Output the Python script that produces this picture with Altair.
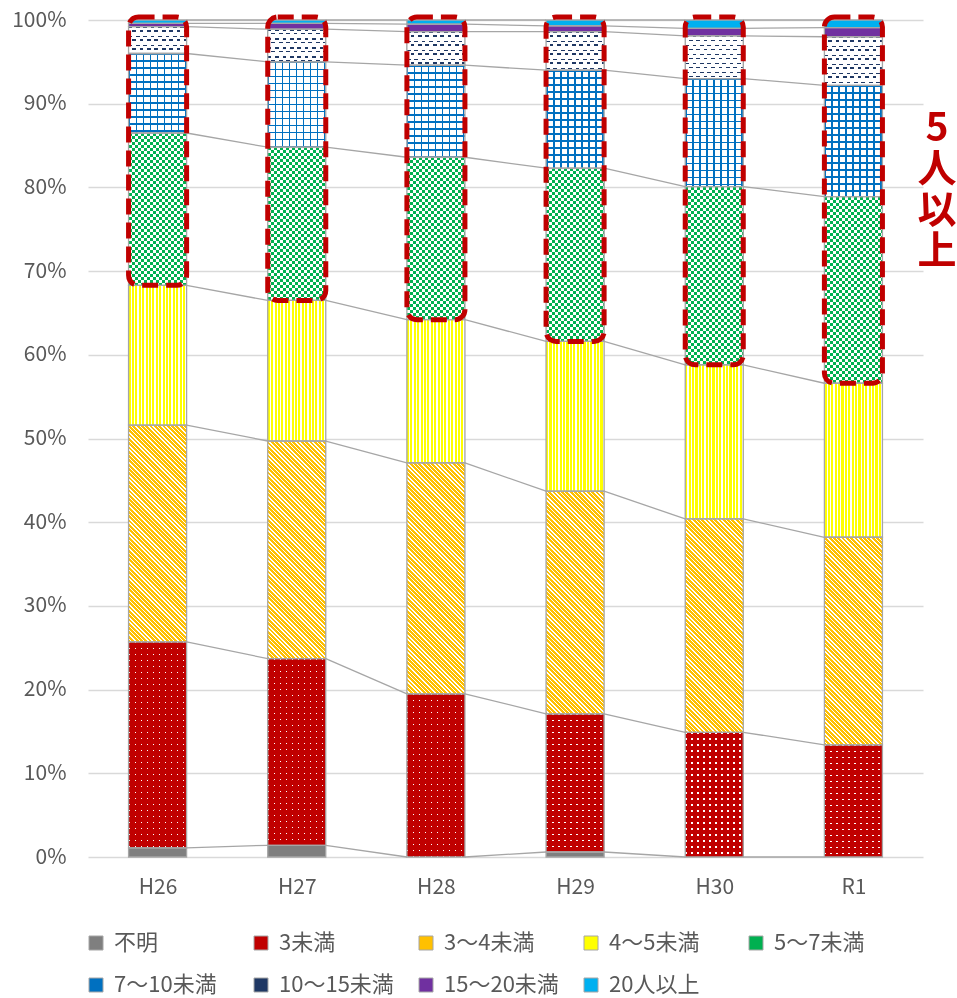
import math

import altair as alt
import pandas as pd

# ---- data: share of households by number of members (%) ----
categories = ["H26", "H27", "H28", "H29", "H30", "R1"]
series_names = ["不明", "3未満", "3～4未満", "4～5未満", "5～7未満",
                "7～10未満", "10～15未満", "15～20未満", "20人以上"]
unknown = [1.1, 1.4, 0.0, 0.6, 0.0, 0.0]
under3 = [24.6, 22.3, 19.5, 16.5, 14.9, 13.4]
from3to4 = [25.9, 26.0, 27.6, 26.6, 25.5, 24.8]
from4to5 = [16.7, 16.8, 17.1, 17.9, 18.4, 18.4]
from5to7 = [18.2, 18.3, 19.4, 20.7, 21.3, 22.3]
from7to10 = [9.5, 10.2, 11.0, 11.7, 12.9, 13.3]
from10to15 = [3.2, 3.9, 4.0, 4.6, 5.1, 5.8]
from15to20 = [0.4, 0.7, 0.9, 0.7, 0.9, 1.1]
over20 = [0.4, 0.4, 0.5, 0.7, 1.0, 0.9]
series_values = [unknown, under3, from3to4, from4to5, from5to7,
                 from7to10, from10to15, from15to20, over20]
series_colors = ["#7F7F7F", "#C00000", "#FFC000", "#FFFF00", "#00B050",
                 "#0070C0", "#1F3864", "#7030A0", "#00B0F0"]
highlight_label = ["5", "人", "以", "上"]

# ---- layout ----
PLOT_W, PLOT_H = 835, 837
HALF = 0.2085                      # half bar width, in category units
BAR_PX = 2 * HALF * PLOT_W / len(categories)
FONT = "Noto Sans CJK JP"
TEXT = "#595959"
EDGE = "#A6A6A6"
GRID = "#D9D9D9"
RED = "#C00000"
NAVY = "#1F3864"
WHITE, BLACK = "#FFFFFF", "#000000"

rows = []
for i, cat in enumerate(categories):
    top = 0.0
    for k, (name, vals) in enumerate(zip(series_names, series_values)):
        v = vals[i]
        rows.append(dict(cat=cat, idx=i, series=name, order=k, value=v,
                         y0=round(top, 2), y1=round(top + v, 2)))
        top += v
seg = pd.DataFrame(rows)

links = []
for name in series_names:
    s = seg[seg.series == name].sort_values("idx")
    for i in range(len(categories) - 1):
        links.append(dict(series=name, idx=i, ya=float(s.y1.iloc[i]), yb=float(s.y1.iloc[i + 1])))
link_df = pd.DataFrame(links)

XS = alt.Scale(domain=[-0.5, len(categories) - 0.5], nice=False, zero=False)
YS = alt.Scale(domain=[0, 100], nice=False, zero=False)
x_labels = "[" + ",".join(f"'{c}'" for c in categories) + "][datum.value]"
X_AX = alt.Axis(values=list(range(len(categories))), labelExpr=x_labels, grid=False,
                ticks=False, domain=False, labelFont=FONT, labelFontSize=21,
                labelColor=TEXT, labelPadding=19, title=None)
Y_AX = alt.Axis(values=list(range(0, 101, 10)), labelExpr="datum.value + '%'",
                grid=True, gridColor=GRID, gridWidth=1.5, ticks=False, domain=False,
                labelFont=FONT, labelFontSize=21, labelColor=TEXT, labelPadding=22,
                title=None)


def bars(data=seg):
    return alt.Chart(data).transform_calculate(
        xl=f"datum.idx - {HALF}", xr=f"datum.idx + {HALF}")


def place():
    return dict(x=alt.X("xl:Q", scale=XS, axis=X_AX), x2="xr:Q",
                y=alt.Y("y0:Q", scale=YS, axis=Y_AX), y2="y1:Q")


def periodic(n, pattern, x1, y1, x2, y2):
    """Repeat `pattern` [(start, end, colour), ...] n times along a linear gradient."""
    stops = []
    for j in range(n):
        for a, b, col in pattern:
            stops.append(dict(offset=round((j + a) / n, 5), color=col))
            stops.append(dict(offset=round((j + b) / n, 5), color=col))
    return dict(gradient="linear", stops=stops, x1=x1, y1=y1, x2=x2, y2=y2)


def two_tone(frac, on, off):
    return [(0, frac, on), (frac, 1, off)]


def across(period, pattern, w=BAR_PX):
    n = math.ceil(w / period)
    return periodic(n, pattern, 0, 0, round(n * period / w, 5), 0)


def down(period, pattern, h):
    n = max(1, math.ceil(h / period))
    return periodic(n, pattern, 0, 0, 0, round(n * period / h, 5))


def diagonal(period, pattern, h, w=BAR_PX):
    # stripes running top-left to bottom-right at 45 degrees on screen
    k = h / w
    a0 = (1 + k) / (1 + k * k)
    n = math.ceil((w + h) / period)
    s = n * period / (w + h)
    return periodic(n, pattern, 0, 1, round(s * a0, 5), round(1 - k * s * a0, 5))


def patch(name, fill, idx=None, blend=None):
    ch = bars().transform_filter(alt.datum.series == name)
    if idx is not None:
        ch = ch.transform_filter(alt.datum.idx == idx)
    kw = dict(fill=fill)
    if blend:
        kw["blend"] = blend
    return ch.mark_rect(**kw).encode(**place())


def px_height(name, i):
    return float(seg[(seg.series == name) & (seg.idx == i)].value.iloc[0]) * PLOT_H / 100


base = bars().mark_rect().encode(
    **place(),
    color=alt.Color("series:N", sort=series_names,
                    scale=alt.Scale(domain=series_names, range=series_colors),
                    legend=alt.Legend(
                        orient="none", legendX=-3, legendY=912, direction="horizontal",
                        columns=5, title=None, symbolType="square", symbolSize=196,
                        symbolStrokeColor=EDGE, symbolStrokeWidth=1, symbolOpacity=1,
                        labelFont=FONT, labelFontSize=22, labelColor=TEXT,
                        labelOffset=7, columnPadding=21, rowPadding=20,
                        gridAlign="all", padding=0)),
)

layers = [base]
n_cat = len(categories)

# 3未満: white dots on red (column mask x row mask, then tinted)
layers.append(patch("3未満", across(6, two_tone(0.24, WHITE, BLACK))))
for i in range(n_cat):
    layers.append(patch("3未満", down(6, two_tone(0.24, WHITE, BLACK), px_height("3未満", i)),
                        idx=i, blend="multiply"))
layers.append(patch("3未満", RED, blend="screen"))

# 3～4未満: orange diagonal hatch
for i in range(n_cat):
    layers.append(patch("3～4未満", diagonal(4.3, two_tone(0.65, "#FFC000", WHITE),
                                            px_height("3～4未満", i)), idx=i))

# 4～5未満: yellow vertical stripes
layers.append(patch("4～5未満", across(3.4, two_tone(0.62, "#FFFF00", WHITE))))

# 5～7未満: green checkerboard (column stripes XOR row stripes, then tinted)
layers.append(patch("5～7未満", across(6, two_tone(0.5, WHITE, BLACK))))
for i in range(n_cat):
    layers.append(patch("5～7未満", down(6, two_tone(0.5, WHITE, BLACK), px_height("5～7未満", i)),
                        idx=i, blend="difference"))
layers.append(patch("5～7未満", "#00B050", blend="screen"))

# 7～10未満: blue grid
layers.append(patch("7～10未満", across(7, two_tone(0.21, "#0070C0", WHITE))))
for i in range(n_cat):
    layers.append(patch("7～10未満", down(7, two_tone(0.21, "#0070C0", "rgba(0,112,192,0)"),
                                         px_height("7～10未満", i)), idx=i))

# 10～15未満: navy wave rows (upper dash / lower dash alternating along each row)
ROW = 9.0
upper, lower, thick = 0.0, 3.6, 1.4
flip_rows = [(0, lower / ROW, BLACK), (lower / ROW, (lower + thick) / ROW, WHITE),
             ((lower + thick) / ROW, 1, BLACK)]
keep_rows = [(0, thick / ROW, WHITE), (thick / ROW, lower / ROW, BLACK),
             (lower / ROW, (lower + thick) / ROW, WHITE), ((lower + thick) / ROW, 1, BLACK)]
layers.append(patch("10～15未満", across(7.4, two_tone(0.5, WHITE, BLACK))))
for i in range(n_cat):
    h = px_height("10～15未満", i)
    layers.append(patch("10～15未満", down(ROW, flip_rows, h), idx=i, blend="difference"))
for i in range(n_cat):
    h = px_height("10～15未満", i)
    layers.append(patch("10～15未満", down(ROW, keep_rows, h), idx=i, blend="multiply"))
layers.append(patch("10～15未満", WHITE, blend="difference"))
layers.append(patch("10～15未満", NAVY, blend="screen"))

# segment outlines
layers.append(bars().transform_filter(alt.datum.value > 0).mark_rect(
    filled=False, stroke=EDGE, strokeWidth=1.3).encode(**place()))

# series lines joining the segment boundaries of neighbouring bars
layers.append(alt.Chart(link_df).transform_calculate(
    xa=f"datum.idx + {HALF}", xb=f"datum.idx + 1 - {HALF}"
).mark_rule(color=EDGE, strokeWidth=1.3).encode(
    x=alt.X("xa:Q", scale=XS, axis=X_AX), x2="xb:Q",
    y=alt.Y("ya:Q", scale=YS, axis=Y_AX), y2="yb:Q"))

# dashed frame around the 5+ members part of each bar
layers.append(bars().transform_filter(alt.datum.series == "4～5未満").transform_calculate(
    top="100"
).mark_rect(filled=False, stroke=RED, strokeWidth=5, strokeDash=[16, 8],
            cornerRadius=10, y2Offset=-3).encode(
    x=alt.X("xl:Q", scale=XS, axis=X_AX), x2="xr:Q",
    y=alt.Y("y1:Q", scale=YS, axis=Y_AX), y2="top:Q"))

layers.append(alt.Chart(pd.DataFrame({"k": [0]})).mark_text(
    text=highlight_label, font=FONT, fontSize=39, fontWeight="bold", color=RED,
    lineHeight=41, align="center", baseline="middle"
).encode(x=alt.value(849), y=alt.value(109)))

chart = alt.layer(*layers).properties(
    width=PLOT_W, height=PLOT_H,
    autosize=alt.AutoSizeParams(type="none"),
    padding={"left": 88, "top": 20, "right": 34, "bottom": 141},
    background="white",
).configure_view(stroke=None)

chart.save("out.html", embed_options={"renderer": "svg", "actions": False})
